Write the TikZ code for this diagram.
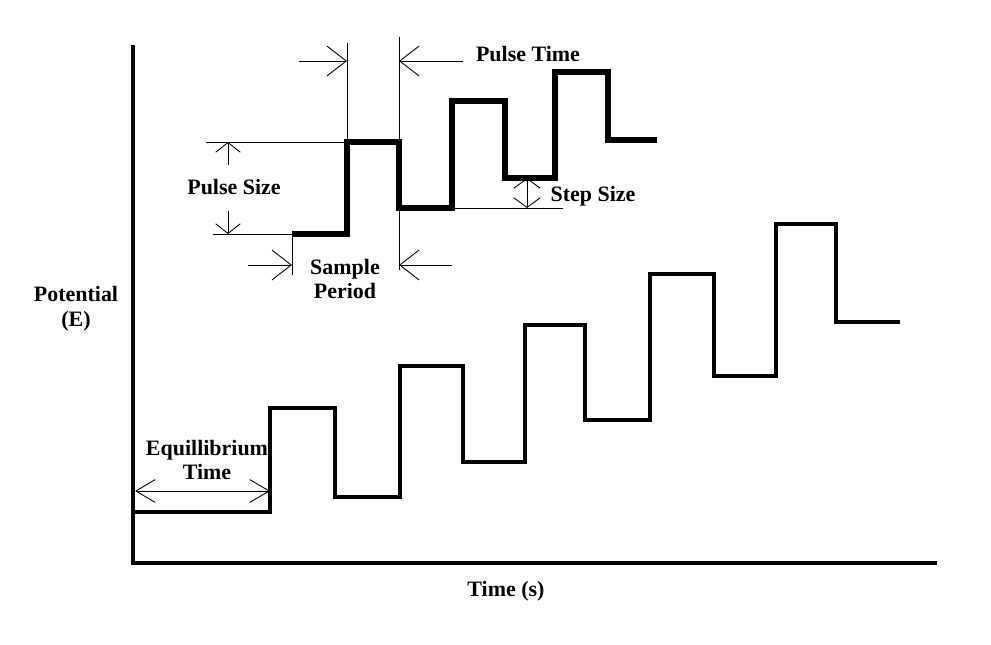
\documentclass[tikz,border=0pt]{standalone}
\usepackage{fontspec}
\setmainfont{Liberation Serif}
\usetikzlibrary{arrows.meta,positioning}

\begin{document}
\begin{tikzpicture}[
    x=0.02cm, y=-0.02cm,
    axisline/.style={line width=1.8pt},
    wave/.style={line width=1.8pt, line join=miter},
    pulsewave/.style={line width=2.9pt, line join=miter},
    guide/.style={line width=0.5pt},
    longtip/.style={guide, -{Straight Barb[length=11pt, width=17pt]}},
    shorttip/.style={guide, -{Straight Barb[length=5.5pt, width=14pt]}},
    eqtip/.style={guide, {Straight Barb[length=11pt, width=13pt]}-{Straight Barb[length=11pt, width=13pt]}},
    steptip/.style={guide, {Straight Barb[length=5.5pt, width=15pt]}-{Straight Barb[length=5.5pt, width=15pt]}},
    lbl/.style={font=\fontsize{12.5}{14.2}\selectfont\bfseries, align=center, inner sep=0pt}
]
\useasboundingbox (0,0) rectangle (991,645);

% Axes
\draw[axisline] (133,45) -- (133,563) -- (937,563);
\node[lbl] (ylabel) at (76,309) {Potential\\(E)};
\node[lbl] (xlabel) at (506,591) {Time (s)};

% Full staircase waveform
\draw[wave] (133,512) -- (270,512) -- (270,408) -- (335,408) -- (335,497)
    -- (400,497) -- (400,366) -- (463,366) -- (463,462) -- (525,462)
    -- (525,325) -- (585,325) -- (585,420) -- (650,420) -- (650,274)
    -- (714,274) -- (714,376) -- (776,376) -- (776,224) -- (836,224)
    -- (836,322) -- (900,322);

% Equilibrium time
\draw[eqtip] (135,491) -- (270,491);
\node[lbl] (eqlabel) at (207,460) {Equillibrium\\Time};

% Detail of the pulses
\draw[pulsewave] (292,234) -- (347,234) -- (347,142) -- (399,142) -- (399,208)
    -- (452,208) -- (452,101) -- (505,101) -- (505,178) -- (555,178)
    -- (555,72) -- (608,72) -- (608,140) -- (657,140);

% Guide lines
\draw[guide] (347,43) -- (347,142);
\draw[guide] (399,37) -- (399,270);
\draw[guide] (292,234) -- (292,275);
\draw[guide] (206,142) -- (347,142);
\draw[guide] (213,234) -- (292,234);
\draw[guide] (452,208) -- (563,208);

% Pulse time
\draw[longtip] (299,61) -- (347,61);
\draw[longtip] (463,61) -- (399,61);
\node[lbl] (ptlabel) at (528,54) {Pulse Time};

% Pulse size
\draw[shorttip] (228,165) -- (228,142);
\draw[shorttip] (228,211) -- (228,234);
\node[lbl] (pslabel) at (234,187) {Pulse Size};

% Sample period
\draw[longtip] (248,265) -- (292,265);
\draw[longtip] (452,265) -- (399,265);
\node[lbl] (splabel) at (345,279) {Sample\\Period};

% Step size
\draw[steptip] (527,178) -- (527,208);
\node[lbl] (sslabel) at (593,196) {Step Size};

\end{tikzpicture}
\end{document}
